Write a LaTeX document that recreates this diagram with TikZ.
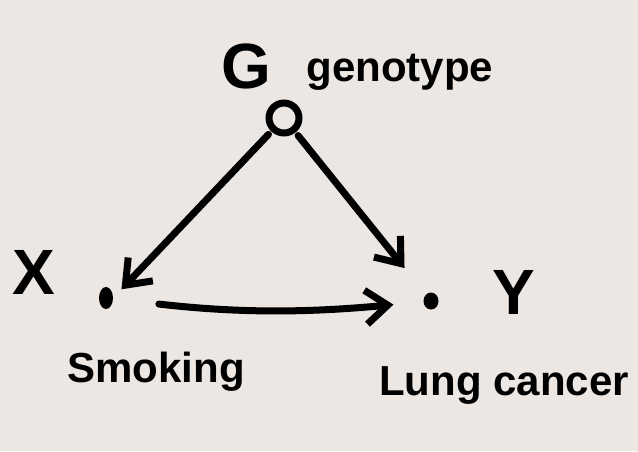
\documentclass[tikz,border=0pt]{standalone}
\usepackage{fontspec}
\setmainfont{Liberation Sans}
\usetikzlibrary{arrows.meta,shapes.geometric}
\definecolor{paperbg}{RGB}{236,231,227}
\definecolor{inkcolor}{RGB}{0,0,0}

\begin{document}
\begin{tikzpicture}[x=1pt,y=-1pt,
  every node/.style={text=inkcolor,inner sep=0pt},
  varname/.style={font=\fontsize{64}{68}\selectfont\bfseries},
  word/.style={font=\fontsize{42}{46}\selectfont\bfseries},
  dotnode/.style={ellipse,fill=inkcolor,minimum width=14pt,minimum height=22pt},
  gcircle/.style={circle,draw=inkcolor,line width=7pt,minimum size=30pt},
  arr/.style={-{Straight Barb[length=22pt,width=34pt,line width=7pt]},line width=7pt,line cap=round,inkcolor}]
    \fill[paperbg] (0,0) rectangle (638,451);
    \useasboundingbox (0,0) rectangle (638,451);
    % nodes
    \node[gcircle] (gnode) at (284,118) {};
    \node[dotnode] (xdot) at (106,298) {};
    \node[dotnode,minimum width=15pt,minimum height=17pt] (ydot) at (431,301) {};
    % labels
    \node[varname] (glabel) at (246,66) {G};
    \node[word] (genotype) at (400,72) {genotype};
    \node[varname] (xlabel) at (34,272) {X};
    \node[varname] (ylabel) at (514,292) {Y};
    \node[word] (smoking) at (156,372) {Smoking};
    \node[word] (lungcancer) at (504,385) {Lung cancer};
    % edges
    \draw[arr,shorten <=4pt,shorten >=12pt] (gnode) -- (xdot.east);
    \draw[arr,shorten <=4pt,shorten >=34pt] (gnode) -- (ydot);
    \draw[arr,shorten <=46pt,shorten >=30pt] (xdot) to[bend right=6] (ydot);
\end{tikzpicture}
\end{document}
